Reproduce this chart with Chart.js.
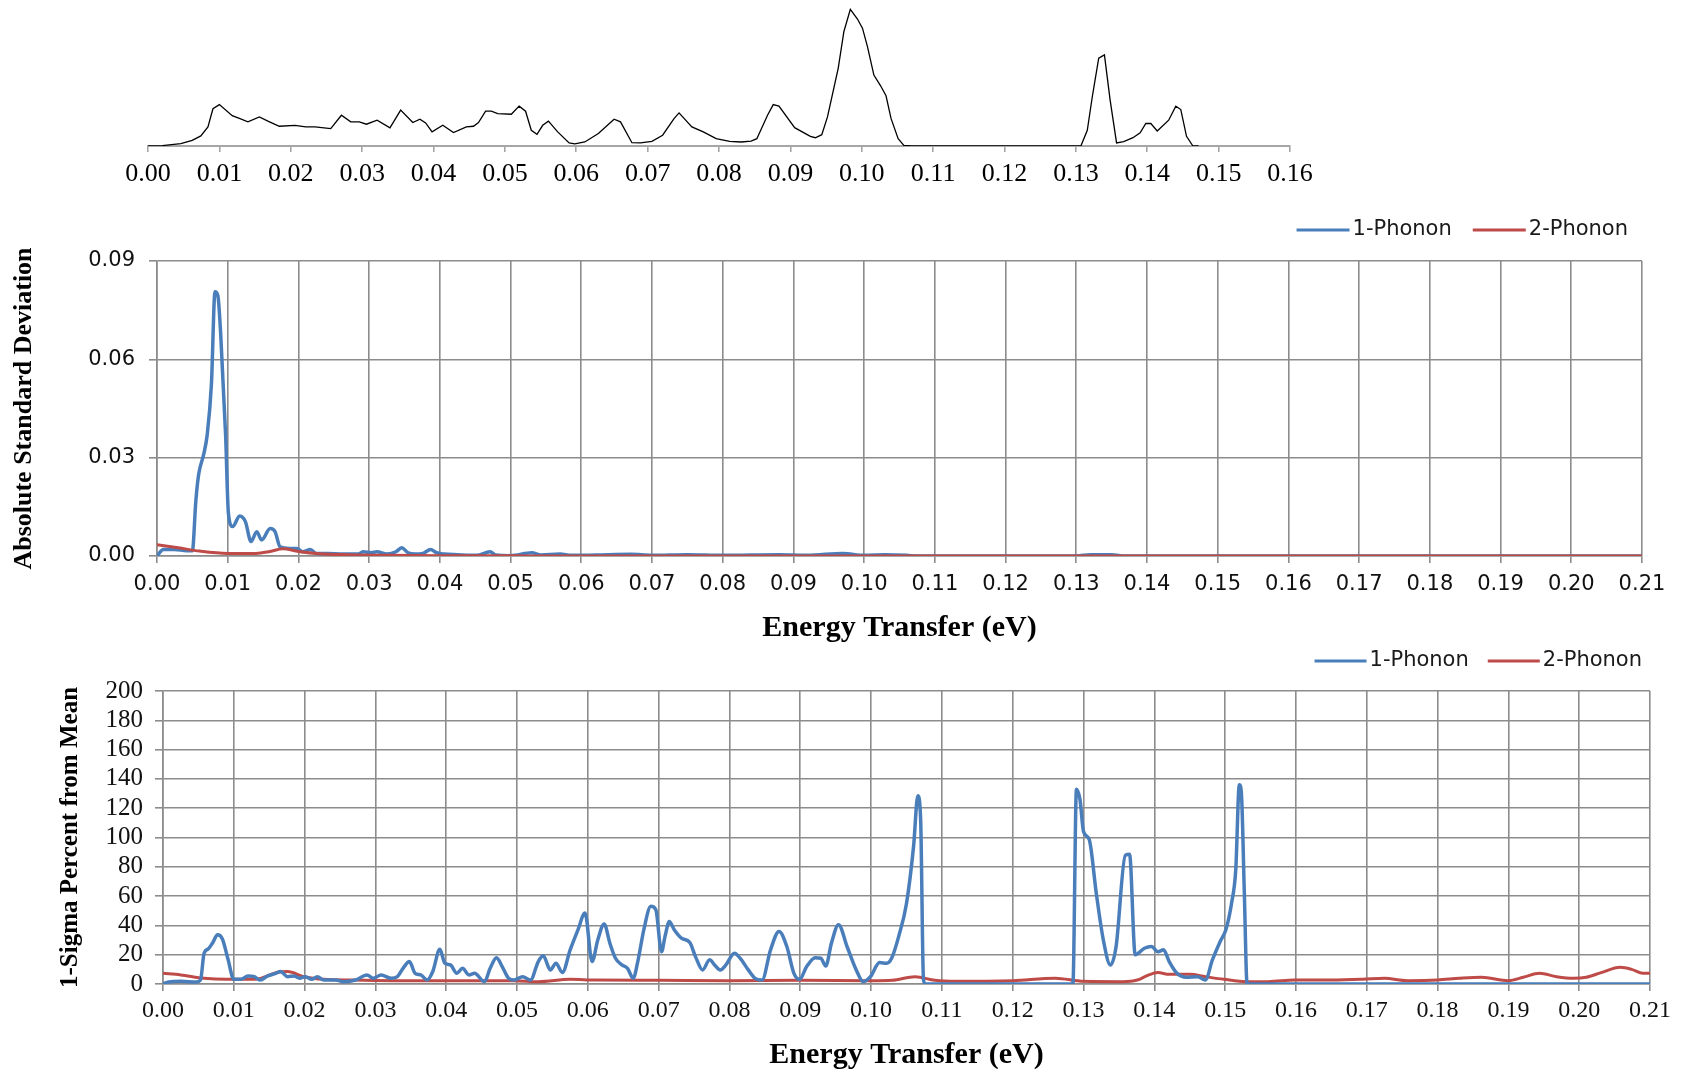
<!DOCTYPE html>
<html>
<head>
<meta charset="utf-8">
<title>Energy Transfer</title>
<script src="https://cdn.jsdelivr.net/npm/chart.js@4.4.0/dist/chart.umd.min.js"></script>
<style>
    html, body { margin: 0; padding: 0; background: #fff; }
    body { width: 1683px; height: 1070px; position: relative; overflow: hidden; }
    canvas { position: absolute; left: 0; }
    #spectrumChart { top: 0; }
    #deviationChart { top: 200px; }
    #percentChart { top: 650px; }
</style>
</head>
<body>
<canvas id="spectrumChart" width="1683" height="200"></canvas>
<canvas id="deviationChart" width="1683" height="450"></canvas>
<canvas id="percentChart" width="1683" height="420"></canvas>

<script>
// Tick values
const spectrumTicks = [0.00, 0.01, 0.02, 0.03, 0.04, 0.05, 0.06, 0.07, 0.08, 0.09, 0.10, 0.11, 0.12, 0.13, 0.14, 0.15, 0.16];
const energyTicks = [0.00, 0.01, 0.02, 0.03, 0.04, 0.05, 0.06, 0.07, 0.08, 0.09, 0.10, 0.11, 0.12, 0.13, 0.14, 0.15, 0.16, 0.17, 0.18, 0.19, 0.20, 0.21];
const deviationTicks = [0.00, 0.03, 0.06, 0.09];
const percentTicks = [0, 20, 40, 60, 80, 100, 120, 140, 160, 180, 200];

// Top spectrum (relative intensity)
const spectrumEnergy = [0, 0.002, 0.0046, 0.0062, 0.0074, 0.0084, 0.0091, 0.0100, 0.0118, 0.0128, 0.0140, 0.0156, 0.0168, 0.0184, 0.0206, 0.0221, 0.0234, 0.0256, 0.0271, 0.0284, 0.0296, 0.0306, 0.0321, 0.0339, 0.0354, 0.0371, 0.0381, 0.0389, 0.0398, 0.0413, 0.0428, 0.0446, 0.0456, 0.0463, 0.0473, 0.0481, 0.0490, 0.0509, 0.0520, 0.0529, 0.0537, 0.0545, 0.0553, 0.0561, 0.0574, 0.0590, 0.0598, 0.0612, 0.0631, 0.0653, 0.0662, 0.0678, 0.0690, 0.0706, 0.0721, 0.0737, 0.0744, 0.0762, 0.0778, 0.0796, 0.0815, 0.0831, 0.0845, 0.0853, 0.0868, 0.0876, 0.0884, 0.0906, 0.0928, 0.0935, 0.0944, 0.0952, 0.0967, 0.0975, 0.0984, 0.0994, 0.1001, 0.1008, 0.1017, 0.1026, 0.1034, 0.1041, 0.1051, 0.1059, 0.1070, 0.1307, 0.1316, 0.1323, 0.1332, 0.1340, 0.1348, 0.1357, 0.1367, 0.1380, 0.1390, 0.1398, 0.1405, 0.1414, 0.1430, 0.1440, 0.1447, 0.1455, 0.1464, 0.1472];
const spectrumIntensity = [0, 0.003, 0.017, 0.041, 0.073, 0.138, 0.27, 0.30, 0.22, 0.20, 0.175, 0.21, 0.18, 0.143, 0.15, 0.138, 0.138, 0.126, 0.223, 0.175, 0.175, 0.158, 0.187, 0.131, 0.26, 0.17, 0.194, 0.167, 0.102, 0.15, 0.097, 0.138, 0.143, 0.17, 0.252, 0.252, 0.235, 0.23, 0.289, 0.252, 0.114, 0.085, 0.15, 0.18, 0.102, 0.022, 0.015, 0.029, 0.09, 0.194, 0.175, 0.024, 0.022, 0.034, 0.078, 0.199, 0.24, 0.138, 0.102, 0.053, 0.034, 0.029, 0.036, 0.053, 0.223, 0.30, 0.289, 0.133, 0.07, 0.06, 0.082, 0.211, 0.563, 0.83, 0.99, 0.92, 0.854, 0.72, 0.514, 0.44, 0.364, 0.2, 0.053, 0.005, 0, 0, 0.114, 0.357, 0.636, 0.66, 0.332, 0.022, 0.032, 0.06, 0.095, 0.163, 0.163, 0.109, 0.187, 0.289, 0.264, 0.07, 0, 0];

// Absolute standard deviation, 1-Phonon
const devEnergy1 = [0, 0.0009, 0.0025, 0.0042, 0.0050, 0.0055, 0.0059, 0.0066, 0.0071, 0.0077, 0.0082, 0.0086, 0.0090, 0.0097, 0.0101, 0.0107, 0.0117, 0.0125, 0.0133, 0.0141, 0.0148, 0.0160, 0.0167, 0.0174, 0.0187, 0.0198, 0.0206, 0.0217, 0.0225, 0.0241, 0.0263, 0.0284, 0.0292, 0.0303, 0.0311, 0.0325, 0.0338, 0.0346, 0.0355, 0.0365, 0.0376, 0.0387, 0.0395, 0.0406, 0.0425, 0.0452, 0.0471, 0.0479, 0.0500, 0.0530, 0.0543, 0.0570, 0.0586, 0.0620, 0.0670, 0.0700, 0.0750, 0.0800, 0.0880, 0.0920, 0.0970, 0.1000, 0.1030, 0.1060, 0.1075, 0.1300, 0.1320, 0.1350, 0.1365, 0.2100];
const devValues1 = [0, 0.002, 0.002, 0.0016, 0.0016, 0.017, 0.025, 0.031, 0.037, 0.0526, 0.0806, 0.0795, 0.068, 0.037, 0.013, 0.009, 0.0122, 0.0105, 0.0044, 0.0074, 0.0049, 0.0084, 0.0074, 0.0028, 0.0023, 0.0023, 0.0013, 0.002, 0.0008, 0.0008, 0.0006, 0.0006, 0.0013, 0.001, 0.0013, 0.0006, 0.0013, 0.0025, 0.001, 0.0006, 0.0008, 0.002, 0.001, 0.0006, 0.0004, 0.0002, 0.0013, 0.0003, 0.0001, 0.001, 0.0003, 0.0006, 0.0002, 0.0003, 0.0005, 0.0002, 0.0004, 0.0002, 0.0004, 0.0002, 0.0008, 0.0002, 0.0004, 0.0002, 0, 0, 0.0004, 0.0004, 0, 0];

// Absolute standard deviation, 2-Phonon
const devEnergy2 = [0, 0.003, 0.006, 0.010, 0.014, 0.016, 0.0178, 0.020, 0.023, 0.027, 0.033, 0.040, 0.050, 0.060, 0.210];
const devValues2 = [0.0034, 0.0025, 0.0015, 0.0008, 0.0008, 0.0014, 0.0022, 0.0014, 0.0007, 0.0004, 0.0002, 0.0001, 0.00005, 0, 0];

// 1-Sigma percent from mean, 1-Phonon
const pctEnergy1 = [0, 0.0008, 0.0025, 0.0047, 0.0053, 0.0058, 0.0064, 0.0070, 0.0077, 0.0084, 0.0092, 0.0100, 0.0110, 0.0120, 0.0129, 0.0137, 0.0148, 0.0159, 0.0166, 0.0176, 0.0185, 0.0193, 0.0201, 0.0210, 0.0218, 0.0227, 0.0244, 0.0255, 0.0272, 0.0288, 0.0297, 0.0308, 0.0322, 0.0331, 0.0339, 0.0348, 0.0356, 0.0364, 0.0373, 0.0381, 0.0391, 0.0398, 0.0406, 0.0415, 0.0423, 0.0432, 0.0440, 0.0454, 0.0462, 0.0471, 0.0479, 0.0488, 0.0496, 0.0508, 0.0519, 0.0530, 0.0537, 0.0547, 0.0555, 0.0564, 0.0575, 0.0586, 0.0596, 0.0606, 0.0614, 0.0623, 0.0631, 0.0639, 0.0648, 0.0656, 0.0664, 0.0671, 0.0679, 0.0689, 0.0696, 0.0704, 0.0709, 0.0715, 0.0722, 0.0732, 0.0744, 0.0752, 0.0762, 0.0772, 0.0779, 0.0787, 0.0795, 0.0807, 0.0815, 0.0826, 0.0836, 0.0846, 0.0858, 0.0870, 0.0881, 0.0891, 0.0899, 0.0909, 0.0921, 0.0929, 0.0936, 0.0944, 0.0954, 0.0966, 0.0979, 0.0989, 0.0999, 0.1012, 0.1022, 0.1029, 0.1039, 0.1050, 0.1060, 0.1066, 0.1070, 0.1074, 0.1077, 0.1285, 0.1290, 0.1295, 0.1300, 0.1308, 0.1318, 0.1328, 0.1338, 0.1346, 0.1359, 0.1365, 0.1373, 0.1386, 0.1396, 0.1405, 0.1413, 0.1421, 0.1432, 0.1445, 0.1461, 0.1472, 0.1482, 0.1493, 0.1501, 0.1509, 0.1515, 0.1520, 0.1523, 0.1527, 0.1531, 0.2100];
const pctValues1 = [0, 1.4, 1.8, 1.4, 2.7, 21, 24, 28, 33.6, 30.6, 16.5, 3.2, 3.2, 5.5, 5, 2.7, 5.5, 7.3, 8.5, 5, 5.5, 3.9, 5, 3.2, 5, 2.7, 2.7, 1.6, 2.7, 6.2, 3.9, 6.2, 3.9, 5, 10.7, 15.3, 7.3, 6.2, 2.7, 8.5, 23.8, 14.2, 13, 7.3, 10.7, 6.2, 7.3, 1.6, 10.7, 18, 11.9, 3.9, 2.7, 5, 2.7, 15.3, 19.2, 9.6, 14.2, 7.8, 23.3, 37, 48.5, 15.3, 30, 41, 28, 17.6, 13, 10.7, 3.9, 16.5, 37, 53, 50.7, 22, 32.5, 42.7, 37, 31.3, 28.3, 18.7, 9.6, 16.5, 13, 9.6, 13, 21, 17.6, 10, 3.9, 2.7, 23.3, 35.9, 25.6, 7.3, 3.2, 11.9, 18, 17.6, 12.3, 27.9, 40.5, 25.6, 9.6, 1.6, 5, 14.6, 14.2, 17.6, 32.5, 55, 94, 128.5, 112, 2.7, 0, 0, 133, 126, 104, 98.7, 62, 30, 13, 25.6, 87.8, 88.5, 19.9, 24.4, 25.6, 22, 23.3, 15.3, 7.3, 4.6, 5, 2.7, 16.4, 29, 37, 55, 78, 136, 130, 64, 0, 0];

// 1-Sigma percent from mean, 2-Phonon
const pctEnergy2 = [0, 0.0025, 0.0058, 0.0090, 0.0130, 0.0162, 0.0176, 0.0199, 0.0227, 0.0270, 0.0328, 0.0440, 0.0496, 0.0530, 0.0575, 0.0610, 0.0700, 0.0800, 0.0900, 0.1000, 0.1030, 0.1062, 0.1090, 0.1120, 0.1200, 0.1260, 0.1300, 0.1355, 0.1376, 0.1389, 0.1405, 0.1421, 0.1450, 0.1472, 0.1498, 0.1530, 0.1561, 0.1598, 0.1651, 0.1694, 0.1725, 0.1757, 0.1800, 0.1831, 0.1862, 0.1900, 0.1921, 0.1944, 0.1968, 0.1992, 0.2010, 0.2031, 0.2058, 0.2074, 0.2090, 0.2100];
const pctValues2 = [7.3, 6.2, 3.9, 3.2, 3.2, 8.0, 8.5, 5, 3.2, 2.7, 2.3, 2.3, 2.3, 1.6, 3.2, 2.7, 2.5, 2.3, 2.5, 2.2, 2.5, 5, 2.5, 1.8, 2.3, 3.9, 1.8, 1.6, 2.7, 5.5, 7.8, 6.6, 6.6, 5, 3.2, 1.6, 1.6, 2.7, 2.7, 3.2, 3.9, 2.3, 2.7, 3.9, 4.6, 2.3, 4.6, 7.3, 5, 3.9, 4.6, 7.8, 11.4, 10, 7.3, 7.3];

// Colours
const blue = '#4A7EBB';
const red = '#BE4B48';
const gridColor = '#8c8c8c';

Chart.defaults.animation = false;
Chart.defaults.events = [];
Chart.defaults.color = '#111';

// Pair x and y arrays into points
function toPoints(xs, ys) {
    return xs.map((x, i) => ({ x: x, y: ys[i] }));
}

// Fixed axis sizes so the plot areas land where they should
function fixHeight(h) {
    return scale => { scale.height = h; scale.paddingLeft = 0; scale.paddingRight = 0; };
}
function fixWidth(w) {
    return scale => { scale.width = w; scale.paddingTop = 0; scale.paddingBottom = 0; };
}
function useTicks(values) {
    return scale => { scale.ticks = values.map(v => ({ value: v })); };
}

// Legend drawn as a short line followed by the label, right aligned
const lineLegend = {
    id: 'lineLegend',
    afterDraw(chart, args, opts) {
        const { ctx, chartArea } = chart;
        ctx.save();
        ctx.font = opts.font;
        ctx.textBaseline = 'middle';
        ctx.textAlign = 'left';
        let x = chartArea.right - opts.rightInset;
        const y = chartArea.top - opts.above;
        chart.data.datasets.slice().reverse().forEach(ds => {
            const tw = ctx.measureText(ds.label).width;
            ctx.fillStyle = '#1a1a1a';
            ctx.fillText(ds.label, x - tw, y);
            x -= tw + opts.textGap;
            ctx.strokeStyle = ds.borderColor;
            ctx.lineWidth = 3;
            ctx.beginPath();
            ctx.moveTo(x - opts.lineLength, y);
            ctx.lineTo(x, y);
            ctx.stroke();
            x -= opts.lineLength + opts.itemGap;
        });
        ctx.restore();
    }
};

function gridOptions(tickLength) {
    return { color: gridColor, lineWidth: 1.6, tickLength: tickLength };
}

// Top spectrum
function createSpectrumChart() {
    new Chart(document.getElementById('spectrumChart'), {
        type: 'line',
        data: {
            datasets: [{
                data: toPoints(spectrumEnergy, spectrumIntensity),
                borderColor: '#000',
                borderWidth: 1.3,
                pointRadius: 0,
                tension: 0
            }]
        },
        options: {
            responsive: false,
            devicePixelRatio: 1,
            layout: { padding: { left: 148, right: 393, top: 8, bottom: 0 } },
            plugins: { legend: { display: false }, tooltip: { enabled: false } },
            scales: {
                x: {
                    type: 'linear', min: 0, max: 0.16,
                    afterBuildTicks: useTicks(spectrumTicks),
                    afterFit: fixHeight(54),
                    grid: { color: '#a6a6a6', lineWidth: 1.6, tickLength: 6, drawOnChartArea: false },
                    border: { color: '#a6a6a6', width: 2 },
                    ticks: {
                        padding: 7, maxRotation: 0, autoSkip: false, color: '#000',
                        font: { family: 'Liberation Serif', size: 26 },
                        callback: v => v.toFixed(2)
                    }
                },
                y: { display: false, min: 0, max: 1 }
            }
        }
    });
}

// Absolute standard deviation chart
function createDeviationChart() {
    new Chart(document.getElementById('deviationChart'), {
        type: 'line',
        data: {
            datasets: [{
                label: '1-Phonon',
                data: toPoints(devEnergy1, devValues1),
                borderColor: blue, borderWidth: 3.5, pointRadius: 0,
                cubicInterpolationMode: 'monotone', order: 1
            }, {
                label: '2-Phonon',
                data: toPoints(devEnergy2, devValues2),
                borderColor: red, borderWidth: 3, pointRadius: 0,
                cubicInterpolationMode: 'monotone', order: 0
            }]
        },
        options: {
            responsive: false,
            devicePixelRatio: 1,
            layout: { padding: { left: 0, right: 41, top: 61, bottom: 0 } },
            plugins: {
                legend: { display: false }, tooltip: { enabled: false },
                lineLegend: { font: '21px "DejaVu Sans"', rightInset: 14, above: 31, textGap: 3, lineLength: 53, itemGap: 21 }
            },
            scales: {
                x: {
                    type: 'linear', min: 0, max: 0.21,
                    afterBuildTicks: useTicks(energyTicks),
                    afterFit: fixHeight(94),
                    grid: gridOptions(7),
                    border: { color: gridColor, width: 1.6 },
                    ticks: {
                        padding: 9, maxRotation: 0, autoSkip: false,
                        font: { family: 'DejaVu Sans', size: 21 },
                        callback: v => v.toFixed(2)
                    },
                    title: {
                        display: true, text: 'Energy Transfer (eV)', color: '#000',
                        font: { family: 'Liberation Serif', size: 30, weight: 'bold', lineHeight: 1 },
                        padding: { top: 0, bottom: 7 }
                    }
                },
                y: {
                    min: 0, max: 0.09,
                    afterBuildTicks: useTicks(deviationTicks),
                    afterFit: fixWidth(157),
                    grid: gridOptions(8),
                    border: { color: gridColor, width: 1.6 },
                    ticks: {
                        padding: 14, autoSkip: false,
                        font: { family: 'DejaVu Sans', size: 21 },
                        callback: v => v.toFixed(2)
                    },
                    title: {
                        display: true, text: 'Absolute Standard Deviation', color: '#000',
                        font: { family: 'Liberation Serif', size: 26, weight: 'bold', lineHeight: 1 },
                        padding: { top: 11, bottom: 0 }
                    }
                }
            }
        },
        plugins: [lineLegend]
    });
}

// 1-Sigma percent chart
function createPercentChart() {
    new Chart(document.getElementById('percentChart'), {
        type: 'line',
        data: {
            datasets: [{
                label: '1-Phonon',
                data: toPoints(pctEnergy1, pctValues1),
                borderColor: blue, borderWidth: 3.5, pointRadius: 0,
                cubicInterpolationMode: 'monotone', order: 0
            }, {
                label: '2-Phonon',
                data: toPoints(pctEnergy2, pctValues2),
                borderColor: red, borderWidth: 3, pointRadius: 0,
                cubicInterpolationMode: 'monotone', order: 1
            }]
        },
        options: {
            responsive: false,
            devicePixelRatio: 1,
            layout: { padding: { left: 0, right: 33, top: 41, bottom: 0 } },
            plugins: {
                legend: { display: false }, tooltip: { enabled: false },
                lineLegend: { font: '21px "DejaVu Sans"', rightInset: 8, above: 30, textGap: 3, lineLength: 52, itemGap: 19 }
            },
            scales: {
                x: {
                    type: 'linear', min: 0, max: 0.21,
                    afterBuildTicks: useTicks(energyTicks),
                    afterFit: fixHeight(86),
                    grid: gridOptions(7),
                    border: { color: gridColor, width: 1.6 },
                    ticks: {
                        padding: 5, maxRotation: 0, autoSkip: false,
                        font: { family: 'Liberation Serif', size: 24 },
                        callback: v => v.toFixed(2)
                    },
                    title: {
                        display: true, text: 'Energy Transfer (eV)', color: '#000',
                        font: { family: 'Liberation Serif', size: 30, weight: 'bold', lineHeight: 1 },
                        padding: { top: 0, bottom: 0 }
                    }
                },
                y: {
                    min: 0, max: 200,
                    afterBuildTicks: useTicks(percentTicks),
                    afterFit: fixWidth(163),
                    grid: gridOptions(8),
                    border: { color: gridColor, width: 1.6 },
                    ticks: {
                        padding: 12, autoSkip: false,
                        font: { family: 'Liberation Serif', size: 25 }
                    },
                    title: {
                        display: true, text: '1-Sigma Percent from Mean', color: '#000',
                        font: { family: 'Liberation Serif', size: 25, weight: 'bold', lineHeight: 1 },
                        padding: { top: 58, bottom: 0 }
                    }
                }
            }
        },
        plugins: [lineLegend]
    });
}

document.addEventListener('DOMContentLoaded', function() {
    createSpectrumChart();
    createDeviationChart();
    createPercentChart();
});
</script>
</body>
</html>
